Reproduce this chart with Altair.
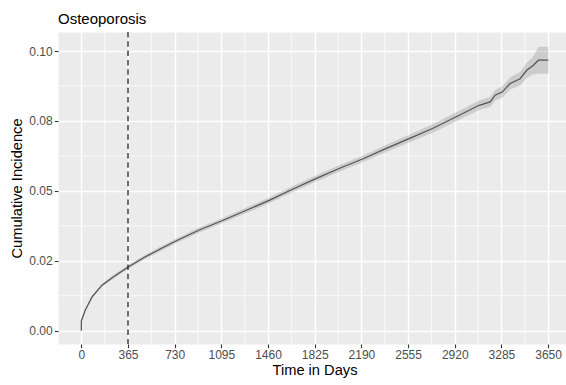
import altair as alt
import pandas as pd

# ---- data ----
days = [0, 0, 31, 84, 162, 252, 370, 487, 617, 735, 922, 1100, 1282, 1469, 1647,
        1834, 2016, 2199, 2381, 2563, 2746, 2928, 3111, 3197, 3236, 3293, 3353,
        3431, 3483, 3535, 3574, 3652]
cum_inc = [0.0, 0.0035, 0.0074, 0.0121, 0.0163, 0.0193, 0.0229, 0.0261, 0.0292,
           0.0320, 0.0360, 0.0393, 0.0429, 0.0466, 0.0505, 0.0544, 0.0580, 0.0614,
           0.0651, 0.0687, 0.0723, 0.0764, 0.0806, 0.0818, 0.0842, 0.0854, 0.0884,
           0.0901, 0.0931, 0.0949, 0.0967, 0.0967]
ci_lower = [0.0, 0.0032, 0.0070, 0.0116, 0.0157, 0.0187, 0.0222, 0.0254, 0.0284,
            0.0312, 0.0351, 0.0384, 0.0419, 0.0456, 0.0494, 0.0533, 0.0568, 0.0602,
            0.0638, 0.0673, 0.0708, 0.0748, 0.0789, 0.0800, 0.0823, 0.0834, 0.0862,
            0.0877, 0.0904, 0.0917, 0.0919, 0.0919]
ci_upper = [0.0, 0.0038, 0.0078, 0.0126, 0.0169, 0.0199, 0.0236, 0.0268, 0.0300,
            0.0328, 0.0369, 0.0402, 0.0439, 0.0476, 0.0516, 0.0555, 0.0592, 0.0626,
            0.0664, 0.0701, 0.0738, 0.0780, 0.0823, 0.0836, 0.0861, 0.0874, 0.0906,
            0.0925, 0.0958, 0.0981, 0.1015, 0.1015]

x_ticks = [0, 365, 730, 1095, 1460, 1825, 2190, 2555, 2920, 3285, 3650]
x_minor = [182.5, 547.5, 912.5, 1277.5, 1642.5, 2007.5, 2372.5, 2737.5, 3102.5, 3467.5]
y_ticks = [0.0, 0.025, 0.05, 0.075, 0.1]
y_tick_labels = ["0.00", "0.02", "0.05", "0.08", "0.10"]
y_minor = [0.0125, 0.0375, 0.0625, 0.0875]
landmark_day = [365]

title_text = "Osteoporosis"
x_title = "Time in Days"
y_title = "Cumulative Incidence"

FONT = "Liberation Sans"

df = pd.DataFrame({"idx": list(range(len(days))), "day": days, "cum": cum_inc,
                   "lower": ci_lower, "upper": ci_upper})

# label expression built from the tick label lists
expr = "''"
for v, lab in reversed(list(zip(y_ticks, y_tick_labels))):
    expr = f"abs(datum.value - {v}) < 1e-9 ? '{lab}' : ({expr})"

xscale = alt.Scale(domain=[-182.5, 3790], nice=False, zero=False)
yscale = alt.Scale(domain=[-0.00475, 0.1068], nice=False, zero=False)
xaxis = alt.Axis(values=x_ticks, format="d", title=x_title, titleX=256.5, titleY=30,
                 titleBaseline="alphabetic", titleAlign="center")
yaxis = alt.Axis(values=y_ticks, labelExpr=expr, title=y_title, titleX=-36.5,
                 titleY=156, titleBaseline="alphabetic", titleAlign="center",
                 titleAngle=270)


def X(field):
    return alt.X(field, type="quantitative", scale=xscale, axis=xaxis)


def Y(field):
    return alt.Y(field, type="quantitative", scale=yscale, axis=yaxis)


xminor_layer = alt.Chart(pd.DataFrame({"day": x_minor})).mark_rule(
    color="white", strokeWidth=0.7).encode(x=X("day"))
yminor_layer = alt.Chart(pd.DataFrame({"cum": y_minor})).mark_rule(
    color="white", strokeWidth=0.7).encode(y=Y("cum"))

band = alt.Chart(df).mark_area(color="#9E9E9E", opacity=0.4).encode(
    x=X("day"), y=Y("lower"), y2=alt.Y2("upper"))
line = alt.Chart(df).mark_line(color="#555555", strokeWidth=1.25).encode(
    x=X("day"), y=Y("cum"), order="idx:Q")
vline = alt.Chart(pd.DataFrame({"day": landmark_day})).mark_rule(
    color="#333333", strokeWidth=1.4, strokeDash=[5.5, 3.8]).encode(x=X("day"))

chart = alt.layer(xminor_layer, yminor_layer, band, line, vline).properties(
    width=508, height=312,
    title=alt.TitleParams(title_text, anchor="start", frame="group", fontSize=15,
                          font=FONT, fontWeight="normal", color="black", offset=4.5),
    autosize=alt.AutoSizeParams(type="none"),
    padding={"left": 58, "top": 32, "right": 0, "bottom": 41},
    background="white",
).configure_view(fill="#EBEBEB", stroke="transparent").configure_axis(
    domain=False, grid=True, gridColor="white", gridWidth=1.4, gridOpacity=1,
    tickColor="#333333", tickSize=3.7, tickWidth=1.1, labelPadding=2.2,
    labelColor="#4D4D4D", labelFontSize=12, labelFont=FONT,
    titleFont=FONT, titleFontSize=14.67, titleColor="black", titleFontWeight="normal",
)

chart.save("out.html", embed_options={"renderer": "svg", "actions": False})
